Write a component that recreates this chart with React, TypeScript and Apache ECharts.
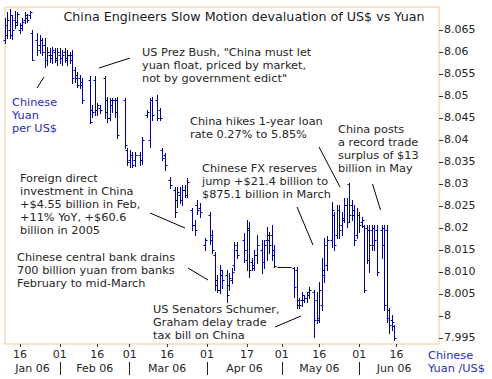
import React, { useEffect, useRef } from 'react';
import * as echarts from 'echarts';

// ---- axis definitions ----
const AXIS_START = Date.UTC(2006, 0, 10);
const AXIS_END = Date.UTC(2006, 6, 3);
const xTickDays = ['01-16', '02-01', '02-16', '03-01', '03-16', '04-01', '04-17', '05-01', '05-16', '06-01', '06-16'];
const monthStarts = ['02-01', '03-01', '04-01', '05-01', '06-01'];
const monthLabelDays = ['01-21', '02-15', '03-16', '04-16', '05-16', '06-15'];
const monthLabels = ['Jan 06', 'Feb 06', 'Mar 06', 'Apr 06', 'May 06', 'Jun 06'];
const yTickValues = [7.995, 8, 8.005, 8.01, 8.015, 8.02, 8.025, 8.03, 8.035, 8.04, 8.045, 8.05, 8.055, 8.06, 8.065];
const yTickLabels = ['7.995', '8', '8.005', '8.010', '8.015', '8.02', '8.025', '8.03', '8.035', '8.04', '8.045', '8.05', '8.055', '8.06', '8.065'];

// ---- data: [date, open, high, low, close] ----
const janBars = [
  ['01-10', 8.0627, 8.0677, 8.0620, 8.0661],
  ['01-11', 8.0639, 8.0691, 8.0632, 8.0673],
  ['01-12', 8.0650, 8.0698, 8.0632, 8.0684],
  ['01-13', 8.0639, 8.0684, 8.0630, 8.0650],
  ['01-14', 8.0673, 8.0693, 8.0655, 8.0661],
  ['01-15', 8.0668, 8.0691, 8.0661, 8.0686],
  ['01-16', 8.0650, 8.0666, 8.0643, 8.0661],
  ['01-17', 8.0655, 8.0677, 8.0650, 8.0668],
  ['01-18', 8.0673, 8.0691, 8.0666, 8.0684],
  ['01-19', 8.0677, 8.0686, 8.0668, 8.0673],
  ['01-20', 8.0684, 8.0693, 8.0677, 8.0691],
  ['01-21', 8.0643, 8.0650, 8.0582, 8.0582],
  ['01-23', 8.0627, 8.0643, 8.0593, 8.0605],
  ['01-24', 8.0616, 8.0639, 8.0598, 8.0627],
  ['01-25', 8.0627, 8.0632, 8.0593, 8.0600],
  ['01-26', 8.0616, 8.0632, 8.0566, 8.0582],
  ['01-27', 8.0582, 8.0611, 8.0570, 8.0600],
  ['01-28', 8.0593, 8.0609, 8.0577, 8.0586],
  ['01-29', 8.0593, 8.0611, 8.0575, 8.0605],
  ['01-30', 8.0600, 8.0609, 8.0577, 8.0586],
  ['01-31', 8.0582, 8.0609, 8.0570, 8.0600],
];
const febBars = [
  ['02-01', 8.0593, 8.0609, 8.0575, 8.0586],
  ['02-02', 8.0586, 8.0605, 8.0570, 8.0593],
  ['02-03', 8.0600, 8.0609, 8.0577, 8.0586],
  ['02-04', 8.0582, 8.0605, 8.0570, 8.0593],
  ['02-05', 8.0593, 8.0600, 8.0575, 8.0582],
  ['02-06', 8.0593, 8.0605, 8.0530, 8.0541],
  ['02-07', 8.0559, 8.0566, 8.0532, 8.0541],
  ['02-08', 8.0548, 8.0555, 8.0520, 8.0525],
  ['02-09', 8.0541, 8.0548, 8.0518, 8.0525],
  ['02-10', 8.0532, 8.0541, 8.0484, 8.0491],
  ['02-13', 8.0536, 8.0545, 8.0439, 8.0441],
  ['02-14', 8.0468, 8.0480, 8.0452, 8.0464],
  ['02-15', 8.0536, 8.0545, 8.0457, 8.0468],
  ['02-16', 8.0468, 8.0484, 8.0457, 8.0480],
  ['02-17', 8.0473, 8.0480, 8.0461, 8.0468],
  ['02-19', 8.0541, 8.0545, 8.0450, 8.0464],
  ['02-20', 8.0491, 8.0498, 8.0441, 8.0450],
  ['02-21', 8.0450, 8.0495, 8.0445, 8.0491],
  ['02-22', 8.0480, 8.0495, 8.0464, 8.0491],
  ['02-23', 8.0491, 8.0495, 8.0452, 8.0464],
  ['02-24', 8.0491, 8.0498, 8.0405, 8.0411],
  ['02-27', 8.0491, 8.0495, 8.0382, 8.0389],
  ['02-28', 8.0377, 8.0382, 8.0343, 8.0350],
];
const marBars = [
  ['03-01', 8.0355, 8.0377, 8.0339, 8.0366],
  ['03-02', 8.0366, 8.0373, 8.0339, 8.0343],
  ['03-03', 8.0355, 8.0373, 8.0341, 8.0366],
  ['03-05', 8.0366, 8.0373, 8.0343, 8.0355],
  ['03-06', 8.0355, 8.0407, 8.0345, 8.0400],
  ['03-08', 8.0457, 8.0468, 8.0452, 8.0464],
  ['03-09', 8.0400, 8.0495, 8.0384, 8.0491],
  ['03-10', 8.0491, 8.0498, 8.0445, 8.0457],
  ['03-12', 8.0491, 8.0502, 8.0445, 8.0450],
  ['03-13', 8.0468, 8.0473, 8.0445, 8.0450],
  ['03-14', 8.0377, 8.0382, 8.0355, 8.0359],
  ['03-15', 8.0366, 8.0370, 8.0332, 8.0343],
  ['03-17', 8.0309, 8.0316, 8.0291, 8.0298],
  ['03-19', 8.0286, 8.0293, 8.0225, 8.0236],
  ['03-20', 8.0264, 8.0293, 8.0248, 8.0282],
  ['03-21', 8.0275, 8.0293, 8.0257, 8.0264],
  ['03-22', 8.0264, 8.0298, 8.0252, 8.0286],
  ['03-23', 8.0286, 8.0298, 8.0270, 8.0275],
  ['03-24', 8.0275, 8.0314, 8.0270, 8.0305],
  ['03-26', 8.0241, 8.0245, 8.0195, 8.0207],
  ['03-27', 8.0207, 8.0218, 8.0184, 8.0195],
  ['03-28', 8.0252, 8.0264, 8.0232, 8.0241],
  ['03-29', 8.0245, 8.0257, 8.0225, 8.0236],
  ['03-31', 8.0161, 8.0177, 8.0150, 8.0173],
];
const aprBars = [
  ['04-02', 8.0230, 8.0236, 8.0164, 8.0173],
  ['04-03', 8.0184, 8.0195, 8.0143, 8.0150],
  ['04-04', 8.0139, 8.0145, 8.0059, 8.0070],
  ['04-05', 8.0082, 8.0093, 8.0055, 8.0059],
  ['04-06', 8.0059, 8.0116, 8.0052, 8.0105],
  ['04-07', 8.0093, 8.0105, 8.0064, 8.0082],
  ['04-09', 8.0093, 8.0105, 8.0032, 8.0048],
  ['04-10', 8.0070, 8.0098, 8.0059, 8.0086],
  ['04-11', 8.0082, 8.0109, 8.0075, 8.0100],
  ['04-12', 8.0116, 8.0168, 8.0105, 8.0161],
  ['04-13', 8.0150, 8.0168, 8.0132, 8.0139],
  ['04-16', 8.0173, 8.0189, 8.0123, 8.0150],
  ['04-17', 8.0127, 8.0218, 8.0105, 8.0200],
  ['04-18', 8.0195, 8.0214, 8.0089, 8.0105],
  ['04-19', 8.0123, 8.0132, 8.0105, 8.0109],
  ['04-20', 8.0116, 8.0150, 8.0105, 8.0139],
  ['04-21', 8.0139, 8.0184, 8.0120, 8.0161],
  ['04-23', 8.0150, 8.0173, 8.0098, 8.0123],
  ['04-24', 8.0123, 8.0173, 8.0109, 8.0161],
  ['04-25', 8.0173, 8.0202, 8.0127, 8.0184],
  ['04-26', 8.0173, 8.0191, 8.0143, 8.0161],
  ['04-27', 8.0184, 8.0207, 8.0127, 8.0139],
  ['04-28', 8.0150, 8.0161, 8.0111, 8.0114],
  ['04-30', 8.0111, 8.0111, 8.0111, 8.0111],
];
const mayBars = [
  ['05-01', 8.0111, 8.0111, 8.0111, 8.0111],
  ['05-02', 8.0111, 8.0111, 8.0111, 8.0111],
  ['05-03', 8.0111, 8.0111, 8.0111, 8.0111],
  ['05-04', 8.0111, 8.0111, 8.0111, 8.0111],
  ['05-06', 8.0109, 8.0111, 8.0043, 8.0066],
  ['05-07', 8.0105, 8.0111, 8.0018, 8.0025],
  ['05-08', 8.0036, 8.0041, 8.0018, 8.0025],
  ['05-09', 8.0036, 8.0055, 8.0023, 8.0048],
  ['05-10', 8.0036, 8.0048, 8.0032, 8.0041],
  ['05-11', 8.0041, 8.0055, 8.0032, 8.0048],
  ['05-12', 8.0055, 8.0066, 8.0041, 8.0059],
  ['05-14', 8.0055, 8.0059, 7.9952, 7.9991],
  ['05-15', 8.0036, 8.0055, 7.9984, 7.9995],
  ['05-16', 7.9991, 8.0077, 7.9986, 8.0059],
  ['05-17', 8.0025, 8.0132, 8.0014, 8.0105],
  ['05-18', 8.0093, 8.0177, 8.0077, 8.0161],
  ['05-19', 8.0116, 8.0182, 8.0105, 8.0173],
  ['05-21', 8.0173, 8.0259, 8.0157, 8.0241],
  ['05-22', 8.0230, 8.0236, 8.0150, 8.0161],
  ['05-23', 8.0184, 8.0252, 8.0177, 8.0241],
  ['05-24', 8.0241, 8.0252, 8.0177, 8.0195],
  ['05-25', 8.0207, 8.0236, 8.0184, 8.0218],
  ['05-26', 8.0223, 8.0268, 8.0214, 8.0252],
  ['05-27', 8.0252, 8.0268, 8.0202, 8.0214],
  ['05-28', 8.0300, 8.0302, 8.0214, 8.0230],
  ['05-29', 8.0252, 8.0264, 8.0218, 8.0230],
  ['05-30', 8.0241, 8.0252, 8.0161, 8.0173],
  ['05-31', 8.0184, 8.0245, 8.0177, 8.0230],
];
const junBars = [
  ['06-01', 8.0230, 8.0236, 8.0191, 8.0207],
  ['06-02', 8.0214, 8.0225, 8.0202, 8.0218],
  ['06-03', 8.0205, 8.0206, 8.0055, 8.0059],
  ['06-04', 8.0200, 8.0206, 8.0120, 8.0127],
  ['06-05', 8.0195, 8.0206, 8.0100, 8.0161],
  ['06-06', 8.0195, 8.0206, 8.0150, 8.0161],
  ['06-07', 8.0200, 8.0206, 8.0150, 8.0173],
  ['06-08', 8.0195, 8.0206, 8.0093, 8.0100],
  ['06-10', 8.0195, 8.0206, 8.0132, 8.0161],
  ['06-11', 8.0200, 8.0206, 8.0014, 8.0025],
  ['06-12', 8.0195, 8.0206, 7.9986, 7.9995],
  ['06-13', 8.0014, 8.0018, 7.9961, 7.9980],
  ['06-14', 7.9991, 8.0002, 7.9968, 7.9986],
  ['06-15', 7.9977, 7.9980, 7.9945, 7.9950],
];

const FONT = '"DejaVu Sans", Verdana, sans-serif';
const BAR_COLOR = '#0000a0';
const TEXT_COLOR = '#262626';
const BLUE_TEXT = '#2c2cbc';
const BORDER = '#f7c896';

function buildDays(): string[] {
  const out: string[] = [];
  for (let t = AXIS_START; t <= AXIS_END; t += 86400000) {
    const d = new Date(t);
    const m = String(d.getUTCMonth() + 1).padStart(2, '0');
    const dd = String(d.getUTCDate()).padStart(2, '0');
    out.push(m + '-' + dd);
  }
  return out;
}

export default function App() {
  const ref = useRef<HTMLDivElement>(null);
  useEffect(() => {
    if (!ref.current) return;
    const chart = echarts.init(ref.current, undefined, { renderer: 'svg' });
    const days = buildDays();
    const bars = [...janBars, ...febBars, ...marBars, ...aprBars, ...mayBars, ...junBars];

    const txt = (x: number, y: number, text: string, fill = TEXT_COLOR, size = 11.3) => ({
      type: 'text',
      x,
      y,
      z: 10,
      style: { text, fill, font: `${size}px ${FONT}`, lineHeight: 13, align: 'left', verticalAlign: 'top' },
    });
    const ln = (x1: number, y1: number, x2: number, y2: number) => ({
      type: 'line',
      z: 10,
      shape: { x1, y1, x2, y2 },
      style: { stroke: '#000', lineWidth: 1 },
    });

    const option: any = {
      animation: false,
      backgroundColor: '#fff',
      grid: {
        left: 5, right: 53, top: 7, bottom: 35,
        show: true, borderColor: BORDER, borderWidth: 1, backgroundColor: 'transparent',
      },
      xAxis: [
        {
          type: 'category',
          data: days,
          boundaryGap: false,
          position: 'bottom',
          axisLine: { show: false },
          axisTick: {
            show: true, length: 3, inside: false,
            interval: (_i: number, v: string) => xTickDays.includes(v),
            lineStyle: { color: '#333', width: 1 },
          },
          axisLabel: {
            show: true, margin: 5, color: TEXT_COLOR, fontSize: 11, fontFamily: FONT,
            interval: (_i: number, v: string) => xTickDays.includes(v),
            formatter: (v: string) => v.slice(3),
          },
          splitLine: { show: false },
        },
        {
          type: 'category',
          data: days,
          boundaryGap: false,
          position: 'bottom',
          offset: 18,
          axisLine: { show: false },
          axisTick: {
            show: true, length: 13, inside: false,
            interval: (_i: number, v: string) => monthStarts.includes(v),
            lineStyle: { color: '#222', width: 1 },
          },
          axisLabel: {
            show: true, margin: 1, color: TEXT_COLOR, fontSize: 11, fontFamily: FONT,
            interval: (_i: number, v: string) => monthLabelDays.includes(v),
            formatter: (v: string) => monthLabels[monthLabelDays.indexOf(v)] || '',
          },
          splitLine: { show: false },
        },
      ],
      yAxis: {
        type: 'value',
        position: 'right',
        min: 7.9936,
        max: 8.0702,
        axisLine: { show: false },
        splitLine: { show: false },
        axisTick: {
          show: true, length: 4, inside: false,
          customValues: yTickValues,
          lineStyle: { color: '#333', width: 1 },
        },
        axisLabel: {
          show: true, margin: 5, color: TEXT_COLOR, fontSize: 11, fontFamily: FONT,
          customValues: yTickValues,
          formatter: (v: number) => {
            const k = yTickValues.findIndex((t) => Math.abs(t - v) < 1e-7);
            return k >= 0 ? yTickLabels[k] : '';
          },
        },
      },
      series: [
        {
          type: 'custom',
          xAxisIndex: 0,
          yAxisIndex: 0,
          silent: true,
          dimensions: ['date', 'open', 'high', 'low', 'close'],
          encode: { x: 0, y: [1, 2, 3, 4] },
          data: bars,
          renderItem: (_params: any, api: any) => {
            const xi = api.value(0);
            const o = api.coord([xi, api.value(1)]);
            const h = api.coord([xi, api.value(2)]);
            const l = api.coord([xi, api.value(3)]);
            const c = api.coord([xi, api.value(4)]);
            const x = Math.round(h[0]) + 0.5;
            const st = { stroke: BAR_COLOR, lineWidth: 1 };
            const oy = Math.round(o[1]) + 0.5;
            const cy = Math.round(c[1]) + 0.5;
            return {
              type: 'group',
              children: [
                { type: 'line', shape: { x1: x, y1: Math.round(h[1]), x2: x, y2: Math.round(l[1]) + 1 }, style: st },
                { type: 'line', shape: { x1: x - 2, y1: oy, x2: x, y2: oy }, style: st },
                { type: 'line', shape: { x1: x, y1: cy, x2: x + 2, y2: cy }, style: st },
              ],
            };
          },
        },
      ],
      graphic: [
        {
          type: 'text', x: 244, y: 16, z: 10,
          style: {
            text: 'China Engineers Slow Motion devaluation of US$ vs Yuan',
            fill: '#1a1a1a', font: `12.7px ${FONT}`, align: 'center', verticalAlign: 'middle',
          },
        },
        txt(142, 45.5, 'US Prez Bush, "China must let\nyuan float, priced by market,\nnot by government edict"'),
        txt(12, 95.5, 'Chinese\nYuan\nper US$', BLUE_TEXT),
        txt(190, 114.5, 'China hikes 1-year loan\nrate 0.27% to 5.85%'),
        txt(338, 122.5, 'China posts\na record trade\nsurplus of $13\nbillion in May'),
        txt(202, 161.5, 'Chinese FX reserves\njump +$21.4 billion to\n$875.1 billion in March'),
        txt(20, 171.5, 'Foreign direct\ninvestment in China\n+$4.55 billion in Feb,\n+11% YoY, +$60.6\nbillion in 2005'),
        txt(17, 250.5, 'Chinese central bank drains\n700 billion yuan from banks\nFebruary to mid-March'),
        txt(153, 302.5, 'US Senators Schumer,\nGraham delay trade\ntax bill on China'),
        txt(428, 348.5, 'Chinese\nYuan /US$', BLUE_TEXT),
        ln(99, 68, 130, 58),
        ln(37, 88, 44, 77),
        ln(150, 213, 185, 228),
        ln(188, 268, 208, 280),
        ln(275, 327, 301, 316),
        ln(297, 207, 313, 245),
        ln(319, 147, 340, 187),
        ln(372.5, 184, 380.5, 210),
      ],
    };
    chart.setOption(option);
    return () => chart.dispose();
  }, []);
  return <div ref={ref} style={{ width: 492, height: 379, position: 'absolute', left: 0, top: 0 }} />;
}
